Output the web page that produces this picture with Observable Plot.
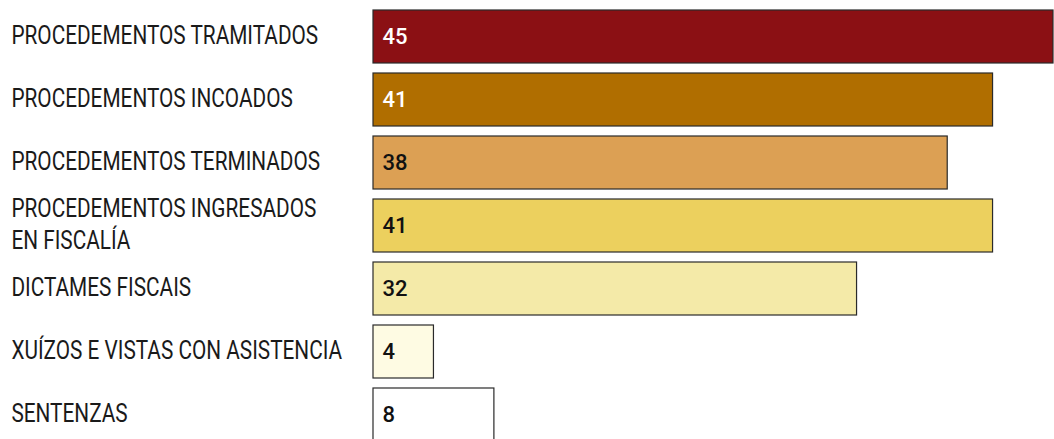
<!DOCTYPE html>
<html>
<head>
<meta charset="utf-8">
<script src="https://cdn.jsdelivr.net/npm/d3@7"></script>
<script src="https://cdn.jsdelivr.net/npm/@observablehq/plot@0.6"></script>
<style>
  html, body { margin: 0; padding: 0; background: #fff; overflow: hidden; }
</style>
</head>
<body>
<div id="chart"></div>
<script>
const categories = [
  "PROCEDEMENTOS TRAMITADOS",
  "PROCEDEMENTOS INCOADOS",
  "PROCEDEMENTOS TERMINADOS",
  "PROCEDEMENTOS INGRESADOS\nEN FISCALÍA",
  "DICTAMES FISCAIS",
  "XUÍZOS E VISTAS CON ASISTENCIA",
  "SENTENZAS"
];
const values = [45, 41, 38, 41, 32, 4, 8];
const colors = ["#8B1014", "#B06E00", "#DCA054", "#ECD05E", "#F4EAA8", "#FEFBE3", "#FFFFFF"];
const valueColors = ["#FFFFFF", "#FFFFFF", "#111111", "#111111", "#111111", "#111111", "#111111"];

const data = categories.map((c, i) => ({cat: c, value: values[i], fill: colors[i], tc: valueColors[i]}));

const squeeze = 0.8; // original labels use a condensed typeface

const plot = Plot.plot({
  width: 1054,
  height: 439,
  marginLeft: 0,
  marginRight: 0,
  marginTop: 0,
  marginBottom: 0,
  style: {background: "#fff", overflow: "visible"},
  x: {domain: [0, 45], range: [373, 1053], axis: null},
  y: {domain: categories, range: [3.9, 446.1], paddingInner: 0.161, paddingOuter: 0.0805, axis: null},
  marks: [
    Plot.barX(data, {x: "value", y: "cat", fill: d => d.fill, stroke: "#2a2a2a", strokeWidth: 1.2}),
    Plot.text(data, {x: 0, y: "cat", text: d => String(d.value), dx: 9, dy: 0, textAnchor: "start",
      fill: d => d.tc, fontSize: 22, fontWeight: 500, fontFamily: "Roboto"}),
    Plot.text(data, {frameAnchor: "left", y: "cat", text: "cat", dx: 11 / squeeze, dy: -3, textAnchor: "start",
      fill: "#1a1a1a", fontSize: 26, lineHeight: 1.2, fontFamily: "Roboto", className: "cat-label"})
  ]
});
document.getElementById("chart").appendChild(plot);

const g = plot.querySelector("g.cat-label");
if (g) {
  const prev = g.getAttribute("transform") || "";
  g.setAttribute("transform", `scale(${squeeze},1) ${prev}`);
}
</script>
</body>
</html>
